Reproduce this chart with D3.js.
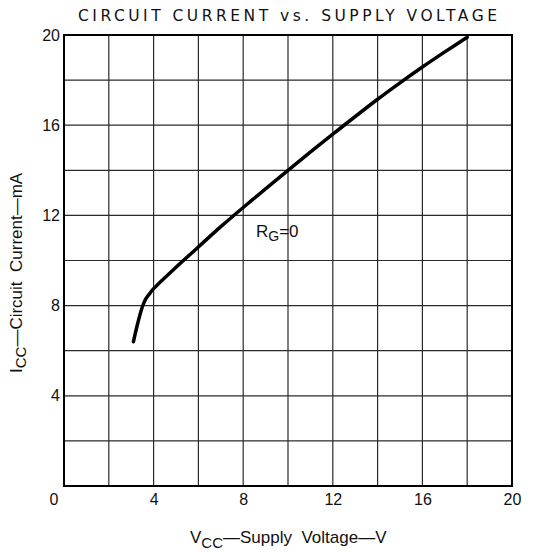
<!DOCTYPE html>
<html>
<head>
<meta charset="utf-8">
<script src="https://cdn.jsdelivr.net/npm/d3@7"></script>
<style>
  body { margin: 0; background: #fff; }
  text { font-family: "Liberation Sans", Arial, sans-serif; fill: #111; }
</style>
</head>
<body>
<div id="chart"></div>
<script>
// curve
const vcc = [3.1, 3.3, 3.5, 3.65, 3.8, 4, 5, 6, 7, 8, 10, 12, 14, 15, 16, 17, 18];
const icc = [6.4, 7.25, 7.95, 8.3, 8.5, 8.75, 9.7, 10.6, 11.5, 12.35, 14.0, 15.6, 17.15, 17.88, 18.58, 19.25, 19.9];
const xTicks = [4, 8, 12, 16, 20];
const yTicks = [4, 8, 12, 16, 20];
const gridStep = 2;

const margin = { top: 35, right: 23, bottom: 66, left: 64 },
  width = 535 - margin.left - margin.right,
  height = 552 - margin.top - margin.bottom;

const x = d3.scaleLinear().domain([0, 20]).range([0, width]);
const y = d3.scaleLinear().domain([0, 20]).range([height, 0]);

const svg = d3.select('#chart').append('svg')
  .attr('width', 535).attr('height', 552);

// title
svg.append('text')
  .attr('x', 78).attr('y', 21)
  .attr('textLength', 419).attr('lengthAdjust', 'spacing')
  .style('font-family', '"DejaVu Sans", sans-serif')
  .style('font-size', '15.5px')
  .text('CIRCUIT CURRENT vs. SUPPLY VOLTAGE');

const g = svg.append('g').attr('transform', `translate(${margin.left},${margin.top})`);

// grid
const gridVals = d3.range(gridStep, 20, gridStep);
g.selectAll('.vgrid').data(gridVals).enter().append('line')
  .attr('x1', d => x(d)).attr('x2', d => x(d))
  .attr('y1', 0).attr('y2', height)
  .style('stroke', '#2a2a2a').style('stroke-width', 1.2);
g.selectAll('.hgrid').data(gridVals).enter().append('line')
  .attr('y1', d => y(d)).attr('y2', d => y(d))
  .attr('x1', 0).attr('x2', width)
  .style('stroke', '#2a2a2a').style('stroke-width', 1.2);

// frame
g.append('rect')
  .attr('width', width).attr('height', height)
  .style('fill', 'none').style('stroke', '#000').style('stroke-width', 2);

// axes (labels only)
const xAxis = d3.axisBottom(x).tickValues(xTicks).tickSize(0).tickPadding(8);
const yAxis = d3.axisLeft(y).tickValues(yTicks).tickSize(0).tickPadding(4);
g.append('g').attr('transform', `translate(0,${height})`).call(xAxis)
  .call(s => s.select('.domain').remove())
  .selectAll('text').style('font-size', '16px').style('font-family', '"Liberation Sans", Arial, sans-serif').attr('fill', '#111');
g.append('g').call(yAxis)
  .call(s => s.select('.domain').remove())
  .selectAll('text').style('font-size', '16px').style('font-family', '"Liberation Sans", Arial, sans-serif').attr('fill', '#111');
// shared origin label
g.append('text')
  .attr('x', x(0) - 10).attr('y', y(0) + 19)
  .attr('text-anchor', 'middle').style('font-size', '16px')
  .text('0');

// curve
const line = d3.line()
  .x((d, i) => x(vcc[i]))
  .y(d => y(d))
  .curve(d3.curveCatmullRom.alpha(0.5));
g.append('path')
  .attr('d', line(icc))
  .style('fill', 'none').style('stroke', '#000')
  .style('stroke-width', 3.5).style('stroke-linecap', 'round')
  .style('stroke-linejoin', 'round');

// curve label
const rg = svg.append('text').attr('x', 256).attr('y', 237).style('font-size', '17px');
rg.append('tspan').text('R');
rg.append('tspan').attr('dy', 4).style('font-size', '14px').text('G');
rg.append('tspan').attr('dy', -4).text('=0');

// x axis title
const xt = svg.append('text').attr('x', 190).attr('y', 543)
  .style('font-size', '17px').style('white-space', 'pre');
xt.append('tspan').text('V');
xt.append('tspan').attr('dy', 5).style('font-size', '15px').text('CC');
xt.append('tspan').attr('dy', -5).text('\u2014Supply  Voltage\u2014V');

// y axis title
const yt = svg.append('text')
  .attr('transform', 'translate(22,373) rotate(-90)')
  .style('font-size', '17px').style('white-space', 'pre');
yt.append('tspan').text('I');
yt.append('tspan').attr('dy', 4).style('font-size', '15px').text('CC');
yt.append('tspan').attr('dy', -4).text('\u2014Circuit  Current\u2014mA');
</script>
</body>
</html>
